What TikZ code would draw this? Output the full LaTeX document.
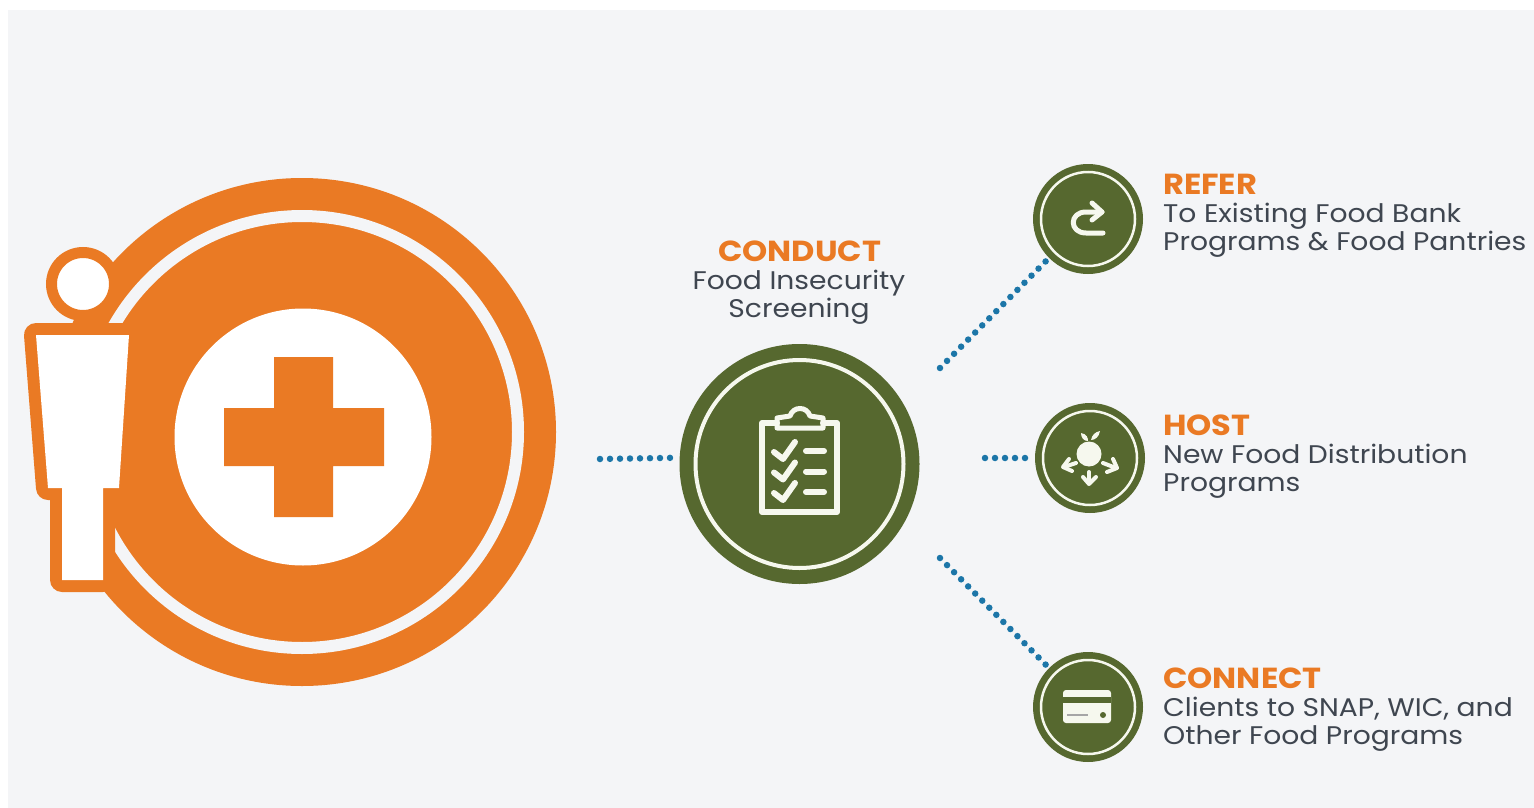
\documentclass[tikz,border=0pt]{standalone}
\usepackage{fontspec}
\setmainfont{Poppins}[FakeStretch=1.105]
\usepackage{xcolor}
\definecolor{carrot}{HTML}{EA7A24}
\definecolor{olive}{HTML}{56682F}
\definecolor{paper}{HTML}{F4F5F7}
\definecolor{slate}{HTML}{3F4650}
\definecolor{dotblue}{HTML}{1C76A8}
\definecolor{cream}{HTML}{F6F8EE}
\tikzset{
	disc/.style={circle,fill=olive,inner sep=0pt,minimum size=110pt},
	ringline/.style={draw=cream,line width=2.5pt,fill=none},
	dotline/.style={dotblue,line width=6.5pt,line cap=round,dash pattern=on 0pt off 10pt},
	heading/.style={text=carrot,font=\fontsize{29}{29}\selectfont\bfseries,inner sep=0pt,anchor=base west},
	bodytext/.style={text=slate,font=\fontsize{25.5}{28}\selectfont,inner sep=0pt,align=left,anchor=west},
	iconline/.style={draw=cream,line width=6pt,line cap=round,line join=round,fill=none}
}
\begin{document}
\begin{tikzpicture}[x=1pt,y=-1pt]
	\useasboundingbox (0,0) rectangle (1534,808);
	\fill[white] (0,0) rectangle (1534,808);
	\fill[paper] (8,10) rectangle (1534,808);

	% big circle
	\node[circle,fill=carrot,inner sep=0pt,minimum size=508pt] (main) at (302,432) {};
	\draw[draw=paper,line width=12pt] (302,432) circle (216);
	\node[circle,fill=white,inner sep=0pt,minimum size=257pt] (hole) at (303,437) {};
	\fill[carrot] (274,357) -- (333,357) -- (333,408) -- (384,408) -- (384,466) -- (333,466) -- (333,517) -- (274,517) -- (274,466) -- (224,466) -- (224,408) -- (274,408) -- cycle;

	% person
	\node[circle,fill=white,draw=carrot,line width=11pt,inner sep=0pt,minimum size=63pt] (head) at (83,284) {};
	\draw[carrot,fill=carrot,line width=24pt,line join=round] (36,335) -- (129,335) -- (119,488) -- (103,488) -- (103,580) -- (62,580) -- (62,488) -- (48,488) -- cycle;
	\fill[white] (36,335) -- (129,335) -- (119,488) -- (103,488) -- (103,580) -- (62,580) -- (62,488) -- (48,488) -- cycle;

	% centre
	\node[disc,minimum size=240pt] (conduct) at (799.5,464) {};
	\draw[ringline,line width=4pt] (conduct) circle (104);
	\node[heading] (conducthead) at (718,261) {CONDUCT};
	\node[bodytext,align=center,anchor=center] (conducttext) at (799,297) {Food Insecurity\\Screening};

	% clipboard
	\draw[iconline] (777,423) -- (762,423) -- (762,512) -- (837,512) -- (837,423) -- (823,423);
	\draw[iconline,line width=5pt] (777,428) -- (777,418) -- (790,416) .. controls (793,406) and (807,406) .. (810,416) -- (823,418) -- (823,428) -- cycle;
	\foreach \ty in {0,20.5,41}{
		\draw[iconline] (774,452+\ty) -- (783,459+\ty) -- (795,442+\ty);
		\draw[iconline] (806,451+\ty) -- (824,451+\ty);
	}

	% right side
	\node[disc] (refer) at (1088,219) {};
	\node[disc] (host) at (1090,458) {};
	\node[disc] (connect) at (1088,707) {};
	\foreach \n in {refer,host,connect}{
		\draw[ringline] (\n) circle (47);
	}

	% refer arrow
	\draw[iconline,line width=5pt] (1103,233) -- (1086,233) .. controls (1069,233) and (1069,212) .. (1086,212) -- (1102,212);
	\draw[iconline,line width=5pt] (1092,203) -- (1102,212) -- (1092,220);

	% host apple
	\node[circle,fill=cream,inner sep=0pt,minimum size=25pt] (apple) at (1089,454) {};
	\fill[cream] (1081,433) .. controls (1087,434) and (1088,438) .. (1088,441) .. controls (1084,441) and (1081,438) .. (1081,433) -- cycle;
	\fill[cream] (1100,431) .. controls (1099,437) and (1095,440) .. (1091,440) .. controls (1092,435) and (1095,432) .. (1100,431) -- cycle;
	\draw[iconline,line width=4pt] (1076,463) -- (1064,467);
	\draw[iconline,line width=4pt] (1069,459) -- (1063,467) -- (1072,471);
	\draw[iconline,line width=4pt] (1103,463) -- (1116,468);
	\draw[iconline,line width=4pt] (1113,459) -- (1117,468) -- (1107,472);
	\draw[iconline,line width=4pt] (1089,472) -- (1089,483);
	\draw[iconline,line width=4pt] (1083,477) -- (1089,484) -- (1096,477);

	% connect card
	\fill[cream,rounded corners=3pt] (1063,690) rectangle (1111,723);
	\fill[olive] (1063,697) rectangle (1111,703);
	\fill[gray!70] (1067,714) rectangle (1088,716);
	\fill[olive] (1103,715) circle (3);

	% labels
	\node[heading] (referhead) at (1163,194) {REFER};
	\node[bodytext] (refertext) at (1163,230) {To Existing Food Bank\\Programs \& Food Pantries};
	\node[heading] (hosthead) at (1163,435) {HOST};
	\node[bodytext] (hosttext) at (1163,471) {New Food Distribution\\Programs};
	\node[heading] (connecthead) at (1163,688) {CONNECT};
	\node[bodytext] (connecttext) at (1163,724) {Clients to SNAP, WIC, and\\Other Food Programs};

	% dotted connectors
	\coordinate (leftstart) at (600,459);
	\coordinate (referstart) at (940,368);
	\coordinate (hoststart) at (985,458);
	\coordinate (connectstart) at (940,558);
	\draw[dotline,shorten >=8pt] (leftstart) -- (conduct.177);
	\draw[dotline] (referstart) -- (refer.225);
	\draw[dotline,shorten >=3pt] (hoststart) -- (host.west);
	\draw[dotline] (connectstart) -- (connect.135);
\end{tikzpicture}
\end{document}
